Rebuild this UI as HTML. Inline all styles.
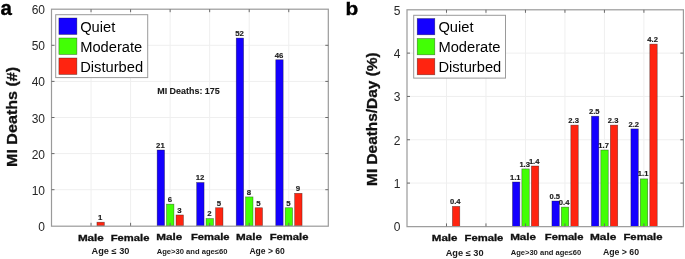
<!DOCTYPE html><html><head><meta charset="utf-8"><style>html,body{margin:0;padding:0;background:#fff;}svg{display:block;will-change:transform;}</style></head><body>
<svg width="685" height="259" viewBox="0 0 685 259" font-family='"Liberation Sans", sans-serif'>
<rect width="685" height="259" fill="#fff"/>
<line x1="91.04" y1="9.20" x2="91.04" y2="225.80" stroke="#efefef" stroke-width="1"/>
<line x1="130.59" y1="9.20" x2="130.59" y2="225.80" stroke="#efefef" stroke-width="1"/>
<line x1="170.13" y1="9.20" x2="170.13" y2="225.80" stroke="#efefef" stroke-width="1"/>
<line x1="209.67" y1="9.20" x2="209.67" y2="225.80" stroke="#efefef" stroke-width="1"/>
<line x1="249.21" y1="9.20" x2="249.21" y2="225.80" stroke="#efefef" stroke-width="1"/>
<line x1="288.76" y1="9.20" x2="288.76" y2="225.80" stroke="#efefef" stroke-width="1"/>
<line x1="51.50" y1="189.70" x2="328.30" y2="189.70" stroke="#efefef" stroke-width="1"/>
<line x1="51.50" y1="153.60" x2="328.30" y2="153.60" stroke="#efefef" stroke-width="1"/>
<line x1="51.50" y1="117.50" x2="328.30" y2="117.50" stroke="#efefef" stroke-width="1"/>
<line x1="51.50" y1="81.40" x2="328.30" y2="81.40" stroke="#efefef" stroke-width="1"/>
<line x1="51.50" y1="45.30" x2="328.30" y2="45.30" stroke="#efefef" stroke-width="1"/>
<rect x="96.94" y="222.19" width="7.40" height="3.61" fill="#ff2410" stroke="rgba(20,20,20,0.55)" stroke-width="0.6"/>
<text x="100.24" y="219.99" font-size="7.8" font-weight="bold" text-anchor="middle" fill="#1a1a1a" stroke="#1a1a1a" stroke-width="0.15">1</text>
<rect x="157.13" y="149.99" width="7.40" height="75.81" fill="#1400ff" stroke="rgba(20,20,20,0.55)" stroke-width="0.6"/>
<text x="160.43" y="147.79" font-size="7.8" font-weight="bold" text-anchor="middle" fill="#1a1a1a" stroke="#1a1a1a" stroke-width="0.15">21</text>
<rect x="166.53" y="204.14" width="7.40" height="21.66" fill="#42ff05" stroke="rgba(20,20,20,0.55)" stroke-width="0.6"/>
<text x="169.83" y="201.94" font-size="7.8" font-weight="bold" text-anchor="middle" fill="#1a1a1a" stroke="#1a1a1a" stroke-width="0.15">6</text>
<rect x="176.03" y="214.97" width="7.40" height="10.83" fill="#ff2410" stroke="rgba(20,20,20,0.55)" stroke-width="0.6"/>
<text x="179.33" y="212.77" font-size="7.8" font-weight="bold" text-anchor="middle" fill="#1a1a1a" stroke="#1a1a1a" stroke-width="0.15">3</text>
<rect x="196.67" y="182.48" width="7.40" height="43.32" fill="#1400ff" stroke="rgba(20,20,20,0.55)" stroke-width="0.6"/>
<text x="199.97" y="180.28" font-size="7.8" font-weight="bold" text-anchor="middle" fill="#1a1a1a" stroke="#1a1a1a" stroke-width="0.15">12</text>
<rect x="206.07" y="218.58" width="7.40" height="7.22" fill="#42ff05" stroke="rgba(20,20,20,0.55)" stroke-width="0.6"/>
<text x="209.37" y="216.38" font-size="7.8" font-weight="bold" text-anchor="middle" fill="#1a1a1a" stroke="#1a1a1a" stroke-width="0.15">2</text>
<rect x="215.57" y="207.75" width="7.40" height="18.05" fill="#ff2410" stroke="rgba(20,20,20,0.55)" stroke-width="0.6"/>
<text x="218.87" y="205.55" font-size="7.8" font-weight="bold" text-anchor="middle" fill="#1a1a1a" stroke="#1a1a1a" stroke-width="0.15">5</text>
<rect x="236.21" y="38.08" width="7.40" height="187.72" fill="#1400ff" stroke="rgba(20,20,20,0.55)" stroke-width="0.6"/>
<text x="239.51" y="35.88" font-size="7.8" font-weight="bold" text-anchor="middle" fill="#1a1a1a" stroke="#1a1a1a" stroke-width="0.15">52</text>
<rect x="245.61" y="196.92" width="7.40" height="28.88" fill="#42ff05" stroke="rgba(20,20,20,0.55)" stroke-width="0.6"/>
<text x="248.91" y="194.72" font-size="7.8" font-weight="bold" text-anchor="middle" fill="#1a1a1a" stroke="#1a1a1a" stroke-width="0.15">8</text>
<rect x="255.11" y="207.75" width="7.40" height="18.05" fill="#ff2410" stroke="rgba(20,20,20,0.55)" stroke-width="0.6"/>
<text x="258.41" y="205.55" font-size="7.8" font-weight="bold" text-anchor="middle" fill="#1a1a1a" stroke="#1a1a1a" stroke-width="0.15">5</text>
<rect x="275.76" y="59.74" width="7.40" height="166.06" fill="#1400ff" stroke="rgba(20,20,20,0.55)" stroke-width="0.6"/>
<text x="279.06" y="57.54" font-size="7.8" font-weight="bold" text-anchor="middle" fill="#1a1a1a" stroke="#1a1a1a" stroke-width="0.15">46</text>
<rect x="285.16" y="207.75" width="7.40" height="18.05" fill="#42ff05" stroke="rgba(20,20,20,0.55)" stroke-width="0.6"/>
<text x="288.46" y="205.55" font-size="7.8" font-weight="bold" text-anchor="middle" fill="#1a1a1a" stroke="#1a1a1a" stroke-width="0.15">5</text>
<rect x="294.66" y="193.31" width="7.40" height="32.49" fill="#ff2410" stroke="rgba(20,20,20,0.55)" stroke-width="0.6"/>
<text x="297.96" y="191.11" font-size="7.8" font-weight="bold" text-anchor="middle" fill="#1a1a1a" stroke="#1a1a1a" stroke-width="0.15">9</text>
<rect x="51.50" y="9.20" width="276.80" height="217.00" fill="none" stroke="#9a9a9a" stroke-width="1.2"/>
<line x1="91.04" y1="225.80" x2="91.04" y2="222.80" stroke="#6a6a6a" stroke-width="1"/>
<line x1="91.04" y1="9.20" x2="91.04" y2="12.20" stroke="#6a6a6a" stroke-width="1"/>
<line x1="130.59" y1="225.80" x2="130.59" y2="222.80" stroke="#6a6a6a" stroke-width="1"/>
<line x1="130.59" y1="9.20" x2="130.59" y2="12.20" stroke="#6a6a6a" stroke-width="1"/>
<line x1="170.13" y1="225.80" x2="170.13" y2="222.80" stroke="#6a6a6a" stroke-width="1"/>
<line x1="170.13" y1="9.20" x2="170.13" y2="12.20" stroke="#6a6a6a" stroke-width="1"/>
<line x1="209.67" y1="225.80" x2="209.67" y2="222.80" stroke="#6a6a6a" stroke-width="1"/>
<line x1="209.67" y1="9.20" x2="209.67" y2="12.20" stroke="#6a6a6a" stroke-width="1"/>
<line x1="249.21" y1="225.80" x2="249.21" y2="222.80" stroke="#6a6a6a" stroke-width="1"/>
<line x1="249.21" y1="9.20" x2="249.21" y2="12.20" stroke="#6a6a6a" stroke-width="1"/>
<line x1="288.76" y1="225.80" x2="288.76" y2="222.80" stroke="#6a6a6a" stroke-width="1"/>
<line x1="288.76" y1="9.20" x2="288.76" y2="12.20" stroke="#6a6a6a" stroke-width="1"/>
<line x1="51.50" y1="189.70" x2="54.50" y2="189.70" stroke="#6a6a6a" stroke-width="1"/>
<line x1="328.30" y1="189.70" x2="325.30" y2="189.70" stroke="#6a6a6a" stroke-width="1"/>
<line x1="51.50" y1="153.60" x2="54.50" y2="153.60" stroke="#6a6a6a" stroke-width="1"/>
<line x1="328.30" y1="153.60" x2="325.30" y2="153.60" stroke="#6a6a6a" stroke-width="1"/>
<line x1="51.50" y1="117.50" x2="54.50" y2="117.50" stroke="#6a6a6a" stroke-width="1"/>
<line x1="328.30" y1="117.50" x2="325.30" y2="117.50" stroke="#6a6a6a" stroke-width="1"/>
<line x1="51.50" y1="81.40" x2="54.50" y2="81.40" stroke="#6a6a6a" stroke-width="1"/>
<line x1="328.30" y1="81.40" x2="325.30" y2="81.40" stroke="#6a6a6a" stroke-width="1"/>
<line x1="51.50" y1="45.30" x2="54.50" y2="45.30" stroke="#6a6a6a" stroke-width="1"/>
<line x1="328.30" y1="45.30" x2="325.30" y2="45.30" stroke="#6a6a6a" stroke-width="1"/>
<text x="45.00" y="230.80" font-size="12" text-anchor="end" fill="#262626">0</text>
<text x="45.00" y="194.70" font-size="12" text-anchor="end" fill="#262626">10</text>
<text x="45.00" y="158.60" font-size="12" text-anchor="end" fill="#262626">20</text>
<text x="45.00" y="122.50" font-size="12" text-anchor="end" fill="#262626">30</text>
<text x="45.00" y="86.40" font-size="12" text-anchor="end" fill="#262626">40</text>
<text x="45.00" y="50.30" font-size="12" text-anchor="end" fill="#262626">50</text>
<text x="45.00" y="14.20" font-size="12" text-anchor="end" fill="#262626">60</text>
<text x="77.90" y="240.90" font-size="9.6" font-weight="bold" fill="#111" stroke="#111" stroke-width="0.3" textLength="26.00" lengthAdjust="spacingAndGlyphs">Male</text>
<text x="110.70" y="240.90" font-size="9.6" font-weight="bold" fill="#111" stroke="#111" stroke-width="0.3" textLength="38.70" lengthAdjust="spacingAndGlyphs">Female</text>
<text x="156.25" y="240.30" font-size="9.6" font-weight="bold" fill="#111" stroke="#111" stroke-width="0.3" textLength="26.00" lengthAdjust="spacingAndGlyphs">Male</text>
<text x="190.90" y="240.10" font-size="9.6" font-weight="bold" fill="#111" stroke="#111" stroke-width="0.3" textLength="38.70" lengthAdjust="spacingAndGlyphs">Female</text>
<text x="236.05" y="240.10" font-size="9.6" font-weight="bold" fill="#111" stroke="#111" stroke-width="0.3" textLength="26.00" lengthAdjust="spacingAndGlyphs">Male</text>
<text x="269.70" y="239.90" font-size="9.6" font-weight="bold" fill="#111" stroke="#111" stroke-width="0.3" textLength="38.70" lengthAdjust="spacingAndGlyphs">Female</text>
<text x="91.60" y="254.30" font-size="8.2" font-weight="bold" fill="#1a1a1a" textLength="37.80" lengthAdjust="spacingAndGlyphs">Age ≤ 30</text>
<text x="156.70" y="253.90" font-size="7.0" font-weight="bold" fill="#1a1a1a" textLength="70.70" lengthAdjust="spacingAndGlyphs">Age&gt;30 and age≤60</text>
<text x="249.40" y="253.60" font-size="8.2" font-weight="bold" fill="#1a1a1a" textLength="35.40" lengthAdjust="spacingAndGlyphs">Age &gt; 60</text>
<text transform="translate(16.90,167.00) rotate(-90)" x="0" y="0" font-size="14.5" font-weight="bold" fill="#111" stroke="#111" stroke-width="0.3" textLength="100.20" lengthAdjust="spacingAndGlyphs">MI Deaths (#)</text>
<text transform="translate(0.60,15.00) scale(1.05,1)" font-size="19.5" font-weight="bold" fill="#000" stroke="#000" stroke-width="0.35">a</text>
<rect x="55.70" y="14.70" width="92.00" height="62.90" fill="#fff" stroke="#9a9a9a" stroke-width="1"/>
<rect x="58.90" y="18.00" width="18.00" height="16.50" fill="#1400ff" stroke="rgba(20,20,20,0.55)" stroke-width="0.6"/>
<text x="80.20" y="31.70" font-size="14.7" fill="#000">Quiet</text>
<rect x="58.90" y="38.00" width="18.00" height="16.50" fill="#42ff05" stroke="rgba(20,20,20,0.55)" stroke-width="0.6"/>
<text x="80.20" y="51.70" font-size="14.7" fill="#000">Moderate</text>
<rect x="58.90" y="58.00" width="18.00" height="16.50" fill="#ff2410" stroke="rgba(20,20,20,0.55)" stroke-width="0.6"/>
<text x="80.20" y="71.70" font-size="14.7" fill="#000">Disturbed</text>
<text x="157.2" y="94.3" font-size="8.6" font-weight="bold" fill="#1a1a1a" stroke="#1a1a1a" stroke-width="0.1" textLength="62.6" lengthAdjust="spacingAndGlyphs">MI Deaths: 175</text>
<line x1="446.49" y1="9.80" x2="446.49" y2="226.40" stroke="#efefef" stroke-width="1"/>
<line x1="485.97" y1="9.80" x2="485.97" y2="226.40" stroke="#efefef" stroke-width="1"/>
<line x1="525.46" y1="9.80" x2="525.46" y2="226.40" stroke="#efefef" stroke-width="1"/>
<line x1="564.94" y1="9.80" x2="564.94" y2="226.40" stroke="#efefef" stroke-width="1"/>
<line x1="604.43" y1="9.80" x2="604.43" y2="226.40" stroke="#efefef" stroke-width="1"/>
<line x1="643.91" y1="9.80" x2="643.91" y2="226.40" stroke="#efefef" stroke-width="1"/>
<line x1="407.00" y1="183.08" x2="683.40" y2="183.08" stroke="#efefef" stroke-width="1"/>
<line x1="407.00" y1="139.76" x2="683.40" y2="139.76" stroke="#efefef" stroke-width="1"/>
<line x1="407.00" y1="96.44" x2="683.40" y2="96.44" stroke="#efefef" stroke-width="1"/>
<line x1="407.00" y1="53.12" x2="683.40" y2="53.12" stroke="#efefef" stroke-width="1"/>
<rect x="452.39" y="206.40" width="7.40" height="20.00" fill="#ff2410" stroke="rgba(20,20,20,0.55)" stroke-width="0.6"/>
<text x="455.19" y="203.70" font-size="7.6" font-weight="bold" text-anchor="middle" fill="#1a1a1a" stroke="#1a1a1a" stroke-width="0.15">0.4</text>
<rect x="512.46" y="182.00" width="7.40" height="44.40" fill="#1400ff" stroke="rgba(20,20,20,0.55)" stroke-width="0.6"/>
<text x="515.26" y="180.10" font-size="7.6" font-weight="bold" text-anchor="middle" fill="#1a1a1a" stroke="#1a1a1a" stroke-width="0.15">1.1</text>
<rect x="521.86" y="168.90" width="7.40" height="57.50" fill="#42ff05" stroke="rgba(20,20,20,0.55)" stroke-width="0.6"/>
<text x="524.66" y="167.00" font-size="7.6" font-weight="bold" text-anchor="middle" fill="#1a1a1a" stroke="#1a1a1a" stroke-width="0.15">1.3</text>
<rect x="531.36" y="166.00" width="7.40" height="60.40" fill="#ff2410" stroke="rgba(20,20,20,0.55)" stroke-width="0.6"/>
<text x="534.16" y="164.10" font-size="7.6" font-weight="bold" text-anchor="middle" fill="#1a1a1a" stroke="#1a1a1a" stroke-width="0.15">1.4</text>
<rect x="551.94" y="201.00" width="7.40" height="25.40" fill="#1400ff" stroke="rgba(20,20,20,0.55)" stroke-width="0.6"/>
<text x="554.74" y="199.10" font-size="7.6" font-weight="bold" text-anchor="middle" fill="#1a1a1a" stroke="#1a1a1a" stroke-width="0.15">0.5</text>
<rect x="561.34" y="207.10" width="7.40" height="19.30" fill="#42ff05" stroke="rgba(20,20,20,0.55)" stroke-width="0.6"/>
<text x="564.14" y="205.20" font-size="7.6" font-weight="bold" text-anchor="middle" fill="#1a1a1a" stroke="#1a1a1a" stroke-width="0.15">0.4</text>
<rect x="570.84" y="125.10" width="7.40" height="101.30" fill="#ff2410" stroke="rgba(20,20,20,0.55)" stroke-width="0.6"/>
<text x="573.64" y="123.20" font-size="7.6" font-weight="bold" text-anchor="middle" fill="#1a1a1a" stroke="#1a1a1a" stroke-width="0.15">2.3</text>
<rect x="591.43" y="116.20" width="7.40" height="110.20" fill="#1400ff" stroke="rgba(20,20,20,0.55)" stroke-width="0.6"/>
<text x="594.23" y="114.30" font-size="7.6" font-weight="bold" text-anchor="middle" fill="#1a1a1a" stroke="#1a1a1a" stroke-width="0.15">2.5</text>
<rect x="600.83" y="150.00" width="7.40" height="76.40" fill="#42ff05" stroke="rgba(20,20,20,0.55)" stroke-width="0.6"/>
<text x="603.63" y="148.10" font-size="7.6" font-weight="bold" text-anchor="middle" fill="#1a1a1a" stroke="#1a1a1a" stroke-width="0.15">1.7</text>
<rect x="610.33" y="125.10" width="7.40" height="101.30" fill="#ff2410" stroke="rgba(20,20,20,0.55)" stroke-width="0.6"/>
<text x="613.13" y="123.20" font-size="7.6" font-weight="bold" text-anchor="middle" fill="#1a1a1a" stroke="#1a1a1a" stroke-width="0.15">2.3</text>
<rect x="630.91" y="128.90" width="7.40" height="97.50" fill="#1400ff" stroke="rgba(20,20,20,0.55)" stroke-width="0.6"/>
<text x="633.71" y="127.00" font-size="7.6" font-weight="bold" text-anchor="middle" fill="#1a1a1a" stroke="#1a1a1a" stroke-width="0.15">2.2</text>
<rect x="640.31" y="178.90" width="7.40" height="47.50" fill="#42ff05" stroke="rgba(20,20,20,0.55)" stroke-width="0.6"/>
<text x="643.11" y="176.20" font-size="7.6" font-weight="bold" text-anchor="middle" fill="#1a1a1a" stroke="#1a1a1a" stroke-width="0.15">1.1</text>
<rect x="649.81" y="44.10" width="7.40" height="182.30" fill="#ff2410" stroke="rgba(20,20,20,0.55)" stroke-width="0.6"/>
<text x="652.61" y="42.20" font-size="7.6" font-weight="bold" text-anchor="middle" fill="#1a1a1a" stroke="#1a1a1a" stroke-width="0.15">4.2</text>
<rect x="407.00" y="9.80" width="276.40" height="216.85" fill="none" stroke="#9a9a9a" stroke-width="1.2"/>
<line x1="446.49" y1="226.40" x2="446.49" y2="223.40" stroke="#6a6a6a" stroke-width="1"/>
<line x1="446.49" y1="9.80" x2="446.49" y2="12.80" stroke="#6a6a6a" stroke-width="1"/>
<line x1="485.97" y1="226.40" x2="485.97" y2="223.40" stroke="#6a6a6a" stroke-width="1"/>
<line x1="485.97" y1="9.80" x2="485.97" y2="12.80" stroke="#6a6a6a" stroke-width="1"/>
<line x1="525.46" y1="226.40" x2="525.46" y2="223.40" stroke="#6a6a6a" stroke-width="1"/>
<line x1="525.46" y1="9.80" x2="525.46" y2="12.80" stroke="#6a6a6a" stroke-width="1"/>
<line x1="564.94" y1="226.40" x2="564.94" y2="223.40" stroke="#6a6a6a" stroke-width="1"/>
<line x1="564.94" y1="9.80" x2="564.94" y2="12.80" stroke="#6a6a6a" stroke-width="1"/>
<line x1="604.43" y1="226.40" x2="604.43" y2="223.40" stroke="#6a6a6a" stroke-width="1"/>
<line x1="604.43" y1="9.80" x2="604.43" y2="12.80" stroke="#6a6a6a" stroke-width="1"/>
<line x1="643.91" y1="226.40" x2="643.91" y2="223.40" stroke="#6a6a6a" stroke-width="1"/>
<line x1="643.91" y1="9.80" x2="643.91" y2="12.80" stroke="#6a6a6a" stroke-width="1"/>
<line x1="407.00" y1="183.08" x2="410.00" y2="183.08" stroke="#6a6a6a" stroke-width="1"/>
<line x1="683.40" y1="183.08" x2="680.40" y2="183.08" stroke="#6a6a6a" stroke-width="1"/>
<line x1="407.00" y1="139.76" x2="410.00" y2="139.76" stroke="#6a6a6a" stroke-width="1"/>
<line x1="683.40" y1="139.76" x2="680.40" y2="139.76" stroke="#6a6a6a" stroke-width="1"/>
<line x1="407.00" y1="96.44" x2="410.00" y2="96.44" stroke="#6a6a6a" stroke-width="1"/>
<line x1="683.40" y1="96.44" x2="680.40" y2="96.44" stroke="#6a6a6a" stroke-width="1"/>
<line x1="407.00" y1="53.12" x2="410.00" y2="53.12" stroke="#6a6a6a" stroke-width="1"/>
<line x1="683.40" y1="53.12" x2="680.40" y2="53.12" stroke="#6a6a6a" stroke-width="1"/>
<text x="400.50" y="231.40" font-size="12" text-anchor="end" fill="#262626">0</text>
<text x="400.50" y="188.08" font-size="12" text-anchor="end" fill="#262626">1</text>
<text x="400.50" y="144.76" font-size="12" text-anchor="end" fill="#262626">2</text>
<text x="400.50" y="101.44" font-size="12" text-anchor="end" fill="#262626">3</text>
<text x="400.50" y="58.12" font-size="12" text-anchor="end" fill="#262626">4</text>
<text x="400.50" y="14.80" font-size="12" text-anchor="end" fill="#262626">5</text>
<text x="431.80" y="241.20" font-size="9.6" font-weight="bold" fill="#111" stroke="#111" stroke-width="0.3" textLength="25.70" lengthAdjust="spacingAndGlyphs">Male</text>
<text x="464.55" y="240.90" font-size="9.6" font-weight="bold" fill="#111" stroke="#111" stroke-width="0.3" textLength="38.80" lengthAdjust="spacingAndGlyphs">Female</text>
<text x="510.15" y="240.10" font-size="9.6" font-weight="bold" fill="#111" stroke="#111" stroke-width="0.3" textLength="26.00" lengthAdjust="spacingAndGlyphs">Male</text>
<text x="544.80" y="240.10" font-size="9.6" font-weight="bold" fill="#111" stroke="#111" stroke-width="0.3" textLength="38.70" lengthAdjust="spacingAndGlyphs">Female</text>
<text x="589.95" y="240.10" font-size="9.6" font-weight="bold" fill="#111" stroke="#111" stroke-width="0.3" textLength="26.40" lengthAdjust="spacingAndGlyphs">Male</text>
<text x="623.45" y="240.00" font-size="9.6" font-weight="bold" fill="#111" stroke="#111" stroke-width="0.3" textLength="39.00" lengthAdjust="spacingAndGlyphs">Female</text>
<text x="445.70" y="255.60" font-size="8.2" font-weight="bold" fill="#1a1a1a" textLength="37.90" lengthAdjust="spacingAndGlyphs">Age ≤ 30</text>
<text x="510.70" y="254.70" font-size="7.0" font-weight="bold" fill="#1a1a1a" textLength="70.40" lengthAdjust="spacingAndGlyphs">Age&gt;30 and age≤60</text>
<text x="602.90" y="255.20" font-size="8.2" font-weight="bold" fill="#1a1a1a" textLength="36.20" lengthAdjust="spacingAndGlyphs">Age &gt; 60</text>
<text transform="translate(377.00,185.90) rotate(-90)" x="0" y="0" font-size="14.5" font-weight="bold" fill="#111" stroke="#111" stroke-width="0.3" textLength="133.50" lengthAdjust="spacingAndGlyphs">MI Deaths/Day (%)</text>
<text transform="translate(345.60,15.30) scale(1.12,1)" font-size="18.6" font-weight="bold" fill="#000" stroke="#000" stroke-width="0.35">b</text>
<rect x="413.70" y="15.30" width="91.80" height="62.80" fill="#fff" stroke="#9a9a9a" stroke-width="1"/>
<rect x="417.20" y="18.50" width="17.60" height="16.30" fill="#1400ff" stroke="rgba(20,20,20,0.55)" stroke-width="0.6"/>
<text x="438.40" y="31.80" font-size="14.7" fill="#000">Quiet</text>
<rect x="417.20" y="38.50" width="17.60" height="16.30" fill="#42ff05" stroke="rgba(20,20,20,0.55)" stroke-width="0.6"/>
<text x="438.40" y="51.80" font-size="14.7" fill="#000">Moderate</text>
<rect x="417.20" y="58.50" width="17.60" height="16.30" fill="#ff2410" stroke="rgba(20,20,20,0.55)" stroke-width="0.6"/>
<text x="438.40" y="71.80" font-size="14.7" fill="#000">Disturbed</text>
</svg></body></html>
